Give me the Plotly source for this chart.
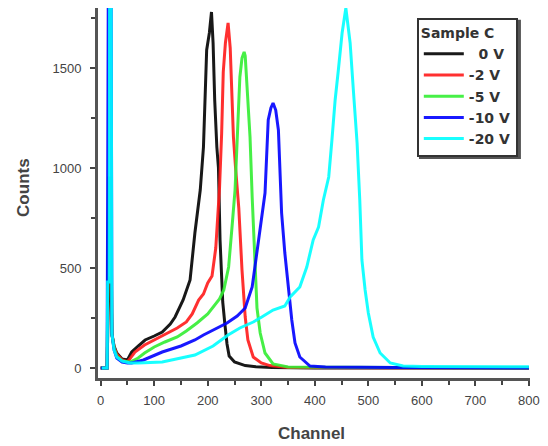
import plotly.graph_objects as go

# ---- data (channel, counts) ----
black_ch = [0, 12, 15, 19, 21, 25, 30, 40, 50, 58, 70, 83, 100, 115, 130, 139, 154, 167, 176, 186, 192, 195, 198, 203, 207, 210, 213, 217, 220, 223, 228, 232, 236, 240, 250, 270, 290, 320, 400, 800]
black_ct = [0, 0, 450, 450, 170, 110, 75, 45, 40, 80, 110, 140, 160, 180, 220, 255, 340, 440, 675, 890, 1105, 1325, 1590, 1675, 1780, 1625, 1340, 1105, 1000, 640, 330, 220, 120, 60, 30, 12, 6, 3, 0, 0]

red_ch = [0, 12, 15, 19, 21, 25, 30, 40, 50, 64, 82, 100, 115, 134, 143, 160, 171, 183, 192, 200, 208, 215, 222, 226, 229, 233, 238, 242, 245, 248, 252, 258, 264, 270, 275, 285, 300, 316, 350, 800]
red_ct = [0, 0, 750, 750, 170, 105, 70, 40, 30, 80, 115, 140, 165, 190, 200, 230, 270, 340, 370, 425, 460, 600, 900, 1175, 1480, 1625, 1725, 1600, 1390, 1155, 1000, 800, 490, 255, 140, 55, 25, 12, 3, 0]

green_ch = [0, 12, 15, 19, 21, 25, 30, 40, 55, 70, 82, 100, 120, 143, 160, 180, 200, 211, 222, 230, 239, 246, 251, 255, 260, 264, 268, 270, 275, 279, 283, 288, 292, 298, 307, 322, 350, 800]
green_ct = [0, 0, 950, 950, 170, 100, 60, 35, 30, 50, 75, 105, 130, 155, 185, 225, 270, 305, 345, 390, 505, 725, 890, 1140, 1455, 1550, 1580, 1560, 1355, 1155, 855, 490, 300, 175, 75, 20, 5, 0]

blue_ch = [0, 12, 15, 19, 21, 25, 30, 40, 50, 58, 80, 115, 150, 176, 192, 215, 236, 255, 270, 283, 292, 298, 307, 313, 318, 322, 327, 332, 335, 338, 344, 350, 357, 363, 372, 391, 420, 550, 800]
blue_ct = [0, 0, 2600, 2600, 170, 90, 50, 30, 25, 25, 40, 80, 110, 140, 165, 195, 225, 260, 300, 405, 575, 690, 875, 1240, 1300, 1325, 1290, 1190, 990, 775, 575, 405, 240, 125, 55, 10, 5, 2, 0]

cyan_ch = [2, 12, 13, 16, 17, 19, 21, 25, 30, 40, 55, 70, 115, 140, 176, 210, 238, 260, 285, 301, 322, 344, 354, 372, 385, 397, 407, 416, 426, 432, 438, 444, 451, 458, 463, 466, 472, 479, 484, 488, 494, 500, 509, 522, 541, 565, 600, 700, 800]
cyan_ct = [0, 0, 430, 430, 2600, 2600, 170, 90, 55, 35, 25, 25, 30, 45, 65, 110, 165, 200, 230, 255, 290, 310, 355, 405, 505, 640, 705, 840, 955, 1140, 1340, 1490, 1675, 1800, 1700, 1625, 1390, 1125, 840, 540, 390, 275, 155, 75, 25, 10, 8, 7, 6]

series_names = ["\u00a0\u00a00 V", "-2 V", "-5 V", "-10 V", "-20 V"]
series_colors = ["#000000", "#ff1a1a", "#33ee33", "#0000ff", "#00ffff"]

x_tickvals = [0, 100, 200, 300, 400, 500, 600, 700, 800]
x_ticktext = ["0", "100", "200", "300", "400", "500", "600", "700", "800"]
y_tickvals = [0, 500, 1000, 1500]
y_ticktext = ["0", "500", "1000", "1500"]

xs = [black_ch, red_ch, green_ch, blue_ch, cyan_ch]
ys = [black_ct, red_ct, green_ct, blue_ct, cyan_ct]

fig = go.Figure()
for i, (x, y) in enumerate(zip(xs, ys)):
    fig.add_trace(go.Scatter(
        x=x, y=y, mode="lines", name=series_names[i],
        legendgroup=str(i),
        line=dict(color=series_colors[i], width=3),
        opacity=0.9,
    ))

FONT = "Liberation Sans, Arial, sans-serif"
axis_font = dict(family=FONT, size=13, color="#444")
leg_font = dict(family="DejaVu Sans, sans-serif", size=14, color="#333", weight="bold")

fig.update_layout(
    width=540, height=438,
    margin=dict(l=90, r=18, t=0, b=68),
    paper_bgcolor="white", plot_bgcolor="white",
    showlegend=True,
    legend=dict(
        title=dict(text="Sample C", font=leg_font),
        font=leg_font,
        x=0.738, y=0.973, xanchor="left", yanchor="top",
        bgcolor="white", bordercolor="#333", borderwidth=2,
        tracegroupgap=0, itemwidth=40,
    ),
    shapes=[
        dict(type="rect", xref="paper", yref="paper", layer="below",
             x0=0.743, x1=0.979, y0=0.592, y1=0.968,
             fillcolor="#555", line=dict(width=0)),
    ],
    xaxis=dict(
        range=[-5, 802], showgrid=False, zeroline=False,
        showline=True, linewidth=3, linecolor="#555",
        ticks="outside", ticklen=5, tickwidth=2, tickcolor="#444",
        tickmode="array", tickvals=x_tickvals, ticktext=x_ticktext,
        minor=dict(ticks="outside", ticklen=4, tickwidth=2, tickcolor="#444", dtick=50, tick0=0),
        tickfont=axis_font, ticklabelstandoff=3,
    ),
    yaxis=dict(
        range=[-50, 1800], showgrid=False, zeroline=False,
        showline=True, linewidth=3, linecolor="#555",
        ticks="outside", ticklen=5, tickwidth=2, tickcolor="#444",
        tickmode="array", tickvals=y_tickvals, ticktext=y_ticktext,
        minor=dict(ticks="outside", ticklen=4, tickwidth=2, tickcolor="#444", dtick=250, tick0=0),
        tickfont=axis_font, ticklabelstandoff=6,
    ),
    annotations=[
        dict(text="<b>Counts</b>", xref="paper", yref="paper", x=-0.174, y=0.516,
             xanchor="center", yanchor="middle", textangle=-90, showarrow=False,
             font=dict(family=FONT, size=17, color="#444")),
        dict(text="<b>Channel</b>", xref="paper", yref="paper", x=0.495, y=-0.151,
             xanchor="center", yanchor="middle", showarrow=False,
             font=dict(family=FONT, size=17, color="#444")),
    ],
)

fig.write_html("out.html")
